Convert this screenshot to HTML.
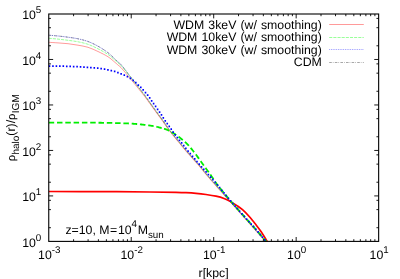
<!DOCTYPE html>
<html><head><meta charset="utf-8"><title>plot</title>
<style>html,body{margin:0;padding:0;background:#fff;}body{width:400px;height:279px;overflow:hidden;position:relative;font-family:"Liberation Sans",sans-serif;}</style>
</head><body>
<svg width="400" height="279" viewBox="0 0 400 279" style="position:absolute;left:0;top:0">
<defs><filter id="gs" x="0" y="0" width="400" height="279" filterUnits="userSpaceOnUse" color-interpolation-filters="sRGB"><feColorMatrix type="saturate" values="0"/></filter><clipPath id="cp"><rect x="48.75" y="14.00" width="329.90" height="227.70"/></clipPath></defs>
<rect width="400" height="279" fill="#fff"/>
<g clip-path="url(#cp)" fill="none">
<path d="M48.70 35.20 C50.25 35.33 54.78 35.67 58.00 36.00 C61.22 36.33 64.67 36.73 68.00 37.20 C71.33 37.67 74.67 38.08 78.00 38.80 C81.33 39.52 84.67 40.27 88.00 41.50 C91.33 42.73 94.67 44.33 98.00 46.20 C101.33 48.07 105.17 50.55 108.00 52.70 C110.83 54.85 113.33 57.57 115.00 59.10 C116.67 60.63 117.00 60.98 118.00 61.90 C119.00 62.82 119.67 63.12 121.00 64.60 C122.33 66.08 124.83 69.30 126.00 70.80 C127.17 72.30 126.83 72.07 128.00 73.60 C129.17 75.13 131.33 77.85 133.00 80.00 C134.67 82.15 136.33 84.33 138.00 86.50 C139.67 88.67 141.67 91.25 143.00 93.00 C144.33 94.75 144.17 94.45 146.00 97.00 C147.83 99.55 151.33 104.58 154.00 108.30 C156.67 112.02 159.33 115.57 162.00 119.30 C164.67 123.03 167.00 126.75 170.00 130.70 C173.00 134.65 177.33 139.73 180.00 143.00 C182.67 146.27 182.83 146.63 186.00 150.30 C189.17 153.97 195.67 161.12 199.00 165.00 C202.33 168.88 202.83 169.87 206.00 173.60 C209.17 177.33 213.67 182.47 218.00 187.40 C222.33 192.33 227.17 197.75 232.00 203.20 C236.83 208.65 241.33 213.70 247.00 220.10 C252.67 226.50 262.83 238.02 266.00 241.60" stroke="#0000ff" stroke-width="0.4" stroke-dasharray="0.9 0.85"/>
<path d="M48.70 35.20 C50.25 35.33 54.78 35.67 58.00 36.00 C61.22 36.33 64.67 36.73 68.00 37.20 C71.33 37.67 74.67 38.08 78.00 38.80 C81.33 39.52 84.67 40.27 88.00 41.50 C91.33 42.73 94.67 44.33 98.00 46.20 C101.33 48.07 105.17 50.55 108.00 52.70 C110.83 54.85 113.33 57.57 115.00 59.10 C116.67 60.63 117.00 60.98 118.00 61.90 C119.00 62.82 119.67 63.12 121.00 64.60 C122.33 66.08 124.83 69.30 126.00 70.80 C127.17 72.30 126.83 72.07 128.00 73.60 C129.17 75.13 131.33 77.85 133.00 80.00 C134.67 82.15 136.33 84.33 138.00 86.50 C139.67 88.67 141.67 91.25 143.00 93.00 C144.33 94.75 144.17 94.45 146.00 97.00 C147.83 99.55 151.33 104.58 154.00 108.30 C156.67 112.02 159.33 115.57 162.00 119.30 C164.67 123.03 167.00 126.75 170.00 130.70 C173.00 134.65 177.33 139.73 180.00 143.00 C182.67 146.27 182.83 146.63 186.00 150.30 C189.17 153.97 195.67 161.12 199.00 165.00 C202.33 168.88 202.83 169.87 206.00 173.60 C209.17 177.33 213.67 182.47 218.00 187.40 C222.33 192.33 227.17 197.75 232.00 203.20 C236.83 208.65 241.33 213.70 247.00 220.10 C252.67 226.50 262.83 238.02 266.00 241.60" stroke="#000000" stroke-width="0.35" stroke-dasharray="2.6 1 0.7 1.3"/>
<path d="M48.70 38.30 C50.25 38.43 54.78 38.77 58.00 39.10 C61.22 39.43 64.67 39.85 68.00 40.30 C71.33 40.75 74.67 41.13 78.00 41.80 C81.33 42.47 84.67 43.13 88.00 44.30 C91.33 45.47 94.67 47.11 98.00 48.80 C101.33 50.49 105.17 52.55 108.00 54.45 C110.83 56.35 113.33 58.79 115.00 60.20 C116.67 61.61 117.00 62.02 118.00 62.90 C119.00 63.78 119.67 64.10 121.00 65.50 C122.33 66.90 124.83 69.88 126.00 71.30 C127.17 72.72 126.83 72.53 128.00 74.02 C129.17 75.51 131.33 78.13 133.00 80.24 C134.67 82.35 136.33 84.52 138.00 86.67 C139.67 88.83 141.67 91.40 143.00 93.15 C144.33 94.89 144.17 94.60 146.00 97.15 C147.83 99.70 151.33 104.73 154.00 108.44 C156.67 112.16 159.33 115.71 162.00 119.44 C164.67 123.17 167.00 126.89 170.00 130.84 C173.00 134.79 177.33 139.87 180.00 143.13 C182.67 146.40 182.83 146.77 186.00 150.43 C189.17 154.10 195.67 161.25 199.00 165.13 C202.33 169.01 202.83 169.99 206.00 173.72 C209.17 177.46 213.67 182.59 218.00 187.52 C222.33 192.45 227.17 197.87 232.00 203.31 C236.83 208.76 241.33 213.81 247.00 220.21 C252.67 226.61 262.83 238.12 266.00 241.70" stroke="#00ff00" stroke-width="0.4" stroke-dasharray="3.1 1.05"/>
<path d="M48.70 42.30 C50.25 42.40 54.78 42.67 58.00 42.90 C61.22 43.13 64.67 43.32 68.00 43.70 C71.33 44.08 74.67 44.60 78.00 45.20 C81.33 45.80 84.67 46.25 88.00 47.30 C91.33 48.35 94.67 49.93 98.00 51.50 C101.33 53.07 105.17 54.93 108.00 56.75 C110.83 58.56 113.33 61.02 115.00 62.40 C116.67 63.78 117.00 64.18 118.00 65.05 C119.00 65.92 119.67 66.21 121.00 67.60 C122.33 68.99 124.83 71.97 126.00 73.37 C127.17 74.77 126.83 74.58 128.00 76.00 C129.17 77.42 131.33 79.89 133.00 81.90 C134.67 83.91 136.33 85.97 138.00 88.03 C139.67 90.10 141.67 92.61 143.00 94.31 C144.33 96.01 144.17 95.71 146.00 98.22 C147.83 100.73 151.33 105.68 154.00 109.36 C156.67 113.04 159.33 116.57 162.00 120.28 C164.67 123.99 167.00 127.66 170.00 131.60 C173.00 135.53 177.33 140.63 180.00 143.89 C182.67 147.15 182.83 147.52 186.00 151.18 C189.17 154.85 195.67 161.99 199.00 165.87 C202.33 169.75 202.83 170.73 206.00 174.46 C209.17 178.19 213.67 183.32 218.00 188.25 C222.33 193.18 227.17 198.59 232.00 204.04 C236.83 209.48 241.33 214.53 247.00 220.92 C252.67 227.32 262.83 238.82 266.00 242.40" stroke="#ff0000" stroke-width="0.4"/>
<path d="M48.70 191.50 C57.25 191.52 83.12 191.52 100.00 191.60 C116.88 191.68 137.33 191.88 150.00 192.00 C162.67 192.12 170.00 192.20 176.00 192.30 C182.00 192.40 182.67 192.43 186.00 192.60 C189.33 192.77 192.67 192.98 196.00 193.30 C199.33 193.62 202.67 194.02 206.00 194.50 C209.33 194.98 213.00 195.53 216.00 196.20 C219.00 196.87 221.50 197.55 224.00 198.50 C226.50 199.45 228.83 200.72 231.00 201.90 C233.17 203.08 235.08 204.30 237.00 205.60 C238.92 206.90 240.50 207.92 242.50 209.70 C244.50 211.48 246.75 213.78 249.00 216.30 C251.25 218.82 254.00 222.27 256.00 224.80 C258.00 227.33 259.10 228.70 261.00 231.50 C262.90 234.30 266.33 239.92 267.40 241.60" stroke="#ff0000" stroke-width="1.7"/>
<path d="M48.70 122.70 L50.45 122.70 L52.72 122.70 L55.40 122.70 L58.42 122.70 L61.68 122.69 L65.10 122.69 L68.59 122.69 L72.06 122.69 L75.42 122.69 L78.59 122.69 L81.48 122.70 L84.00 122.70 L86.20 122.70 L88.22 122.71 L90.08 122.71 L91.80 122.71 L93.42 122.71 L94.96 122.72 L96.44 122.72 L97.90 122.73 L99.36 122.74 L100.84 122.76 L102.38 122.78 L104.00 122.80 L105.70 122.83 L107.45 122.86 L109.23 122.90 L111.04 122.94 L112.84 122.98 L114.62 123.02 L116.38 123.07 L118.07 123.12 L119.70 123.17 L121.25 123.21 L122.68 123.26 L124.00 123.30 L125.18 123.34 L126.25 123.38 L127.20 123.41 L128.07 123.45 L128.88 123.48 L129.62 123.52 L130.34 123.56 L131.04 123.60 L131.73 123.64 L132.45 123.69 L133.20 123.74 L134.00 123.80 L134.83 123.86 L135.67 123.93 L136.50 124.01 L137.33 124.08 L138.17 124.16 L139.00 124.24 L139.83 124.33 L140.67 124.42 L141.50 124.51 L142.33 124.60 L143.17 124.70 L144.00 124.80 L144.84 124.90 L145.69 125.00 L146.55 125.11 L147.41 125.21 L148.27 125.32 L149.12 125.44 L149.98 125.55 L150.81 125.67 L151.64 125.80 L152.45 125.93 L153.24 126.06 L154.00 126.20 L154.74 126.35 L155.48 126.50 L156.20 126.66 L156.91 126.83 L157.60 127.00 L158.28 127.18 L158.95 127.35 L159.59 127.53 L160.22 127.70 L160.83 127.87 L161.43 128.04 L162.00 128.20 L162.54 128.35 L163.03 128.48 L163.49 128.60 L163.93 128.71 L164.00 128.73" stroke="#00ee00" stroke-width="1.8" stroke-dasharray="5.5 2.8"/>
<path d="M164.00 128.73 L164.34 128.83 L164.75 128.94 L165.16 129.07 L165.57 129.21 L166.01 129.36 L166.47 129.55 L166.96 129.76 L167.50 130.00 L168.09 130.28 L168.71 130.59 L169.37 130.94 L170.06 131.30 L170.76 131.68 L171.47 132.08 L172.18 132.49 L172.89 132.90 L173.58 133.31 L174.25 133.72 L174.90 134.12 L175.50 134.50 L176.07 134.88 L176.63 135.25 L177.16 135.63 L177.69 136.01 L178.19 136.39 L178.69 136.76 L179.17 137.14 L179.65 137.51 L180.12 137.89 L180.58 138.26 L181.04 138.63 L181.50 139.00 L181.95 139.37 L182.40 139.73 L182.84 140.09 L183.28 140.44 L183.70 140.80 L184.12 141.16 L184.54 141.51 L184.94 141.87 L185.34 142.22 L185.74 142.58 L186.12 142.94 L186.50 143.30 L186.87 143.66 L187.21 144.01 L187.55 144.35 L187.87 144.69 L188.19 145.03 L188.50 145.38 L188.81 145.73 L189.13 146.09 L189.45 146.46 L189.79 146.86 L190.13 147.27 L190.50 147.70 L190.88 148.16 L191.28 148.64 L191.69 149.14 L192.11 149.66 L192.54 150.20 L192.97 150.74 L193.40 151.29 L193.83 151.84 L194.26 152.39 L194.68 152.93 L195.10 153.47 L195.50 154.00 L195.89 154.52 L196.28 155.04 L196.66 155.56 L197.04 156.08 L197.42 156.60 L197.79 157.12 L198.16 157.64 L198.53 158.15 L198.90 158.67 L199.27 159.18 L199.63 159.69 L200.00 160.20 L200.37 160.71 L200.73 161.21 L201.09 161.71 L201.44 162.21 L201.80 162.71 L202.16 163.21 L202.51 163.71 L202.87 164.21 L203.22 164.70 L203.58 165.20 L203.94 165.70 L204.30 166.20 L204.66 166.70 L205.03 167.20 L205.39 167.69 L205.76 168.19 L206.13 168.68 L206.49 169.17 L206.86 169.67 L207.23 170.17 L207.60 170.67 L207.97 171.18 L208.33 171.69 L208.70 172.20 L209.07 172.72 L209.43 173.24 L209.79 173.76 L210.15 174.28 L210.51 174.80 L210.87 175.33 L211.23 175.86 L211.60 176.40 L211.96 176.94 L212.34 177.49 L212.72 178.04 L213.10 178.60 L213.49 179.17 L213.88 179.75 L214.28 180.34 L214.67 180.93 L215.08 181.53 L215.48 182.13 L215.89 182.73 L216.30 183.34 L216.72 183.94 L217.14 184.53 L217.57 185.12 L218.00 185.70 L218.43 186.26 L218.85 186.81 L219.27 187.34 L219.70 187.86 L220.12 188.37 L220.56 188.89 L221.00 189.42 L221.46 189.97 L221.94 190.53 L222.43 191.12 L222.95 191.74 L223.50 192.40 L224.07 193.09 L224.66 193.81 L225.28 194.55 L225.90 195.31 L226.55 196.10 L227.21 196.90 L227.89 197.72 L228.59 198.55 L229.29 199.40 L230.02 200.26 L230.75 201.12 L231.50 202.00 L232.26 202.88 L233.03 203.78 L233.82 204.68 L234.62 205.60 L235.43 206.53 L236.26 207.47 L237.11 208.43 L237.97 209.41 L238.85 210.40 L239.75 211.42 L240.66 212.45 L241.60 213.50 L242.56 214.58 L243.56 215.69 L244.59 216.82 L245.63 217.98 L246.70 219.15 L247.78 220.34 L248.86 221.53 L249.94 222.73 L251.03 223.93 L252.10 225.13 L253.16 226.32 L254.20 227.50 L255.26 228.72 L256.39 230.01 L257.54 231.35 L258.72 232.71 L259.89 234.08 L261.04 235.42 L262.14 236.72 L263.18 237.94 L264.14 239.06 L264.99 240.06 L265.72 240.92 L266.30 241.60" stroke="#00ee00" stroke-width="1.8" stroke-dasharray="5.5 2.8"/>
<path d="M48.70 65.13h1.60v1.75h-1.60zM52.15 65.15h1.60v1.75h-1.60zM55.60 65.18h1.60v1.75h-1.60zM59.05 65.22h1.60v1.75h-1.60zM62.50 65.30h1.60v1.75h-1.60zM65.95 65.41h1.60v1.75h-1.60zM69.39 65.53h1.60v1.75h-1.60zM72.84 65.64h1.60v1.75h-1.60zM76.29 65.77h1.60v1.75h-1.60zM79.74 65.93h1.60v1.75h-1.60zM83.18 66.14h1.60v1.75h-1.60zM86.62 66.41h1.60v1.75h-1.60zM90.06 66.70h1.60v1.75h-1.60zM93.49 66.99h1.60v1.75h-1.60zM96.93 67.34h1.60v1.75h-1.60zM100.35 67.79h1.60v1.75h-1.60zM103.75 68.34h1.60v1.75h-1.60zM107.14 68.98h1.60v1.75h-1.60zM110.51 69.73h1.60v1.75h-1.60zM113.85 70.60h1.60v1.75h-1.60zM117.12 71.70h1.60v1.75h-1.60zM120.33 72.97h1.60v1.75h-1.60zM123.49 74.34h1.60v1.75h-1.60zM126.61 75.82h1.60v1.75h-1.60zM129.61 77.52h1.60v1.75h-1.60zM132.38 79.57h1.60v1.75h-1.60zM135.02 81.79h1.60v1.75h-1.60zM137.53 84.16h1.60v1.75h-1.60zM139.99 86.58h1.60v1.75h-1.60zM142.37 89.07h1.60v1.75h-1.60zM144.69 91.63h1.60v1.75h-1.60zM146.87 94.30h1.60v1.75h-1.60zM148.90 97.09h1.60v1.75h-1.60zM150.86 99.93h1.60v1.75h-1.60zM152.81 102.77h1.60v1.75h-1.60zM154.80 105.59h1.60v1.75h-1.60zM156.81 108.40h1.60v1.75h-1.60zM158.79 111.22h1.60v1.75h-1.60zM160.68 114.11h1.60v1.75h-1.60zM162.51 117.04h1.60v1.75h-1.60zM164.46 119.88h1.60v1.75h-1.60zM166.46 122.69h1.60v1.75h-1.60zM168.46 125.50h1.60v1.75h-1.60zM170.44 128.33h1.60v1.75h-1.60zM172.40 131.16h1.60v1.75h-1.60zM174.41 133.97h1.60v1.75h-1.60zM176.51 136.71h1.60v1.75h-1.60zM178.67 139.39h1.60v1.75h-1.60zM180.84 142.08h1.60v1.75h-1.60zM182.93 144.82h1.60v1.75h-1.60zM185.06 147.54h1.60v1.75h-1.60zM187.26 150.20h1.60v1.75h-1.60zM189.48 152.84h1.60v1.75h-1.60zM191.71 155.47h1.60v1.75h-1.60zM193.94 158.10h1.60v1.75h-1.60zM196.18 160.72h1.60v1.75h-1.60zM198.43 163.34h1.60v1.75h-1.60zM200.70 165.94h1.60v1.75h-1.60zM202.99 168.52h1.60v1.75h-1.60zM205.29 171.08h1.60v1.75h-1.60zM207.58 173.66h1.60v1.75h-1.60zM209.85 176.27h1.60v1.75h-1.60zM212.11 178.87h1.60v1.75h-1.60zM214.36 181.49h1.60v1.75h-1.60zM216.60 184.11h1.60v1.75h-1.60zM218.81 186.76h1.60v1.75h-1.60zM220.99 189.44h1.60v1.75h-1.60zM223.18 192.10h1.60v1.75h-1.60zM225.37 194.77h1.60v1.75h-1.60zM227.57 197.42h1.60v1.75h-1.60zM229.79 200.06h1.60v1.75h-1.60zM232.04 202.68h1.60v1.75h-1.60zM234.31 205.28h1.60v1.75h-1.60zM236.58 207.87h1.60v1.75h-1.60zM238.87 210.46h1.60v1.75h-1.60zM241.16 213.03h1.60v1.75h-1.60zM243.47 215.60h1.60v1.75h-1.60zM245.79 218.16h1.60v1.75h-1.60zM248.11 220.71h1.60v1.75h-1.60zM250.42 223.27h1.60v1.75h-1.60zM252.71 225.85h1.60v1.75h-1.60zM254.99 228.44h1.60v1.75h-1.60zM257.24 231.05h1.60v1.75h-1.60zM259.49 233.67h1.60v1.75h-1.60zM261.73 236.30h1.60v1.75h-1.60zM263.96 238.92h1.60v1.75h-1.60z" fill="#0000ff" stroke="none"/>
</g>
<g fill="none">
<path d="M329.2 24.5H363.8" stroke="#ff0000" stroke-width="0.4"/>
<path d="M329.2 37.5H363.8" stroke="#00ff00" stroke-width="0.4" stroke-dasharray="3.1 1.05"/>
<path d="M329.2 49.5H363.8" stroke="#0000ff" stroke-width="0.4" stroke-dasharray="0.9 0.85"/>
<path d="M329.2 62.5H363.8" stroke="#000000" stroke-width="0.35" stroke-dasharray="2.6 1 0.7 1.3"/>
</g>
<path d="M73.58 241.40V239.20M73.58 14.00V16.20M88.10 241.40V239.20M88.10 14.00V16.20M98.40 241.40V239.20M98.40 14.00V16.20M106.40 241.40V239.20M106.40 14.00V16.20M112.93 241.40V239.20M112.93 14.00V16.20M118.45 241.40V239.20M118.45 14.00V16.20M123.23 241.40V239.20M123.23 14.00V16.20M127.45 241.40V239.20M127.45 14.00V16.20M131.22 241.40V237.00M131.22 14.00V18.40M156.05 241.40V239.20M156.05 14.00V16.20M170.58 241.40V239.20M170.58 14.00V16.20M180.88 241.40V239.20M180.88 14.00V16.20M188.87 241.40V239.20M188.87 14.00V16.20M195.40 241.40V239.20M195.40 14.00V16.20M200.92 241.40V239.20M200.92 14.00V16.20M205.71 241.40V239.20M205.71 14.00V16.20M209.93 241.40V239.20M209.93 14.00V16.20M213.70 241.40V237.00M213.70 14.00V18.40M238.53 241.40V239.20M238.53 14.00V16.20M253.05 241.40V239.20M253.05 14.00V16.20M263.35 241.40V239.20M263.35 14.00V16.20M271.35 241.40V239.20M271.35 14.00V16.20M277.88 241.40V239.20M277.88 14.00V16.20M283.40 241.40V239.20M283.40 14.00V16.20M288.18 241.40V239.20M288.18 14.00V16.20M292.40 241.40V239.20M292.40 14.00V16.20M296.17 241.40V237.00M296.17 14.00V18.40M321.00 241.40V239.20M321.00 14.00V16.20M335.53 241.40V239.20M335.53 14.00V16.20M345.83 241.40V239.20M345.83 14.00V16.20M353.82 241.40V239.20M353.82 14.00V16.20M360.35 241.40V239.20M360.35 14.00V16.20M365.87 241.40V239.20M365.87 14.00V16.20M370.66 241.40V239.20M370.66 14.00V16.20M374.88 241.40V239.20M374.88 14.00V16.20M48.75 227.71H50.95M378.65 227.71H376.45M48.75 209.61H50.95M378.65 209.61H376.45M48.75 200.33H50.95M378.65 200.33H376.45M48.75 195.92H53.15M378.65 195.92H374.25M48.75 182.23H50.95M378.65 182.23H376.45M48.75 164.13H50.95M378.65 164.13H376.45M48.75 154.85H50.95M378.65 154.85H376.45M48.75 150.44H53.15M378.65 150.44H374.25M48.75 136.75H50.95M378.65 136.75H376.45M48.75 118.65H50.95M378.65 118.65H376.45M48.75 109.37H50.95M378.65 109.37H376.45M48.75 104.96H53.15M378.65 104.96H374.25M48.75 91.27H50.95M378.65 91.27H376.45M48.75 73.17H50.95M378.65 73.17H376.45M48.75 63.89H50.95M378.65 63.89H376.45M48.75 59.48H53.15M378.65 59.48H374.25M48.75 45.79H50.95M378.65 45.79H376.45M48.75 27.69H50.95M378.65 27.69H376.45M48.75 18.41H50.95M378.65 18.41H376.45" stroke="#000" stroke-width="0.9" fill="none"/>
<rect x="48.75" y="14.00" width="329.90" height="227.40" fill="none" stroke="#000" stroke-width="1.1"/>
<g font-family="'Liberation Sans', sans-serif" font-size="12.3" fill="#000" text-rendering="geometricPrecision" filter="url(#gs)">
<text x="41.3" y="246.60" text-anchor="end">10<tspan font-size="9.8" dy="-6">0</tspan></text>
<text x="41.3" y="201.12" text-anchor="end">10<tspan font-size="9.8" dy="-6">1</tspan></text>
<text x="41.3" y="155.64" text-anchor="end">10<tspan font-size="9.8" dy="-6">2</tspan></text>
<text x="41.3" y="110.16" text-anchor="end">10<tspan font-size="9.8" dy="-6">3</tspan></text>
<text x="41.3" y="64.68" text-anchor="end">10<tspan font-size="9.8" dy="-6">4</tspan></text>
<text x="41.3" y="19.20" text-anchor="end">10<tspan font-size="9.8" dy="-6">5</tspan></text>
<text x="49.25" y="259.4" text-anchor="middle">10<tspan font-size="9.8" dy="-6.4">-3</tspan></text>
<text x="131.72" y="259.4" text-anchor="middle">10<tspan font-size="9.8" dy="-6.4">-2</tspan></text>
<text x="214.20" y="259.4" text-anchor="middle">10<tspan font-size="9.8" dy="-6.4">-1</tspan></text>
<text x="296.67" y="259.4" text-anchor="middle">10<tspan font-size="9.8" dy="-6.4">0</tspan></text>
<text x="379.15" y="259.4" text-anchor="middle">10<tspan font-size="9.8" dy="-6.4">1</tspan></text>
<text x="321.8" y="28.50" text-anchor="end" word-spacing="0.7">WDM 3keV (w/ smoothing)</text>
<text x="321.8" y="41.00" text-anchor="end" word-spacing="0.7">WDM 10keV (w/ smoothing)</text>
<text x="321.8" y="53.50" text-anchor="end" word-spacing="0.7">WDM 30keV (w/ smoothing)</text>
<text x="321.8" y="66.00" text-anchor="end" word-spacing="0.7">CDM</text>
<text x="65.4" y="234.1">z=10, M<tspan dx="0.6">=</tspan><tspan dx="0.6">10</tspan><tspan font-size="9.8" dy="-7">4</tspan><tspan dy="7.0" dx="0.7">M</tspan><tspan font-size="9.8" dy="3.7">sun</tspan></text>
<text x="213.6" y="276.7" text-anchor="middle">r[kpc]</text>
<text transform="translate(15.2 127.7) rotate(-90)" text-anchor="middle"><tspan font-size="11.2">&#961;</tspan><tspan font-size="10" dy="3.4" dx="0.3">halo</tspan><tspan dy="-3.4">(r)/</tspan><tspan font-size="11.2">&#961;</tspan><tspan font-size="10.1" dy="3.4" dx="0.3">IGM</tspan></text>
</g>
</svg>
</body></html>
